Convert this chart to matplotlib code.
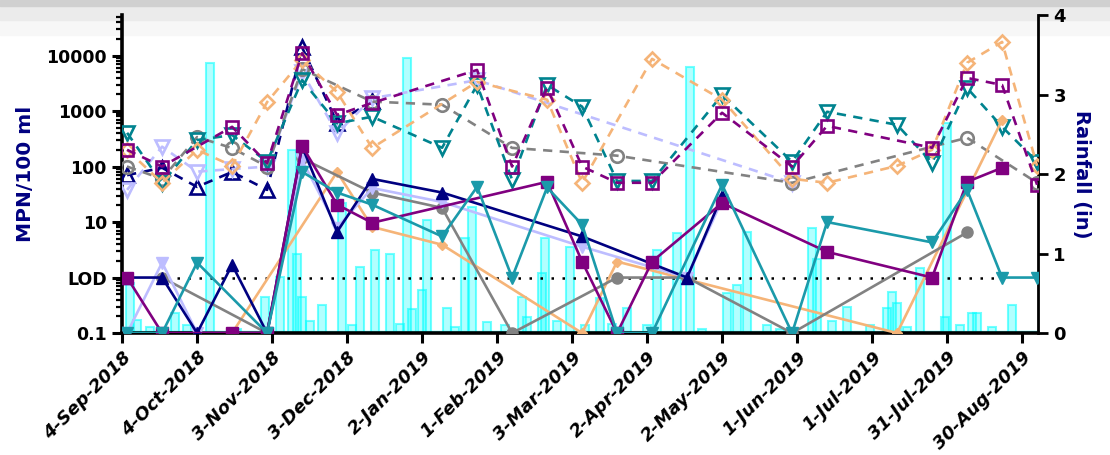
import numpy as np
import matplotlib
matplotlib.use("Agg")
import matplotlib.pyplot as plt
import matplotlib.dates as mdates
from matplotlib.patches import Rectangle
from matplotlib.ticker import FixedLocator, LogLocator, NullFormatter

N = np.nan

# ---------------------------------------------------------------------------
# sampling dates (biweekly)
sample_dates = ['2018-09-06', '2018-09-20', '2018-10-04', '2018-10-18', '2018-11-01',
                '2018-11-15', '2018-11-29', '2018-12-13', '2019-01-10', '2019-01-24',
                '2019-02-07', '2019-02-21', '2019-03-07', '2019-03-21', '2019-04-04',
                '2019-04-18', '2019-05-02', '2019-05-30', '2019-06-13', '2019-07-11',
                '2019-07-25', '2019-08-08', '2019-08-22', '2019-09-05']

# open markers / dashed lines (MPN/100 ml)
purple_dash = [200, 100, N, 520, 115, 11000, 850, 1400, N, 5500, 100, 2600, 100, 51, 51, N,
               930, 100, 540, N, 218, 3950, 2950, 47]
navy_dash = [70, 95, 43, 80, 38, 14000, 620, 1500, N, N, N, N, N, N, N, N,
             N, N, N, N, N, N, N, N]
lavender_dash = [38, 228, 81, 90, 100, 5000, 400, 1700, N, 3600, N, N, N, N, N, N,
                 N, 51, N, N, N, N, N, N]
gray_dash = [100, 60, 340, 215, 100, 5700, N, 1480, 1300, N, 217, N, N, 157, N, N,
             N, 51, N, N, N, 330, N, 51]
teal_dash = [405, 50, 300, 370, 122, 3600, 600, 790, 218, 2950, 58, 2950, 1200, 55, 55, N,
             1950, 122, 970, 565, 117, 2600, 520, 122]
orange_dash = [200, 51, 200, 103, 1450, 8300, 2200, 217, N, 3350, N, 1600, 51, N, 8700, N,
               1600, 60, 51, 103, 200, 7400, 17600, 103]

# filled markers / solid lines (LOD plotted at 1, non-detect at 0.1)
purple_solid = [1, 0.1, N, 0.1, 0.1, 235, 20.6, 9.7, N, N, N, 53, 1.94, 0.1, 1.94, N,
                22, N, 2.9, N, 1, 53, 95, N]
navy_solid = [1, 1, 0.1, 1.7, 0.1, 230, 6.7, 60, 34, N, N, N, 5.5, N, N, 1,
              30, N, N, N, N, N, N, N]
lavender_solid = [0.1, 1.86, 0.1, N, 0.1, 130, 7.9, 41, 23, N, N, N, 3.6, N, N, 1,
                  25, N, N, N, N, N, N, N]
gray_solid = [N, 1, N, N, 0.1, 140, N, 34, 18, N, 0.1, N, N, 1, N, 1,
              N, 0.1, N, N, N, 6.5, N, N]
teal_solid = [0.1, 0.1, 1.86, N, 0.1, 80, 34, 20.6, 5.5, 43, 1, 42, 9, 0.1, 0.1, N,
              47, 0.1, 10, N, 4.3, 38, 1, 1]
orange_solid = [N, N, N, 0.1, N, N, 80, 8.2, 3.9, N, N, N, 0.1, 1.94, N, N,
                N, N, N, 0.1, N, N, 690, N]

# daily rainfall (in)
rain_dates = ['2018-09-07', '2018-09-10', '2018-09-15', '2018-09-25', '2018-09-30',
              '2018-10-09', '2018-10-20', '2018-10-31', '2018-11-06', '2018-11-11',
              '2018-11-13', '2018-11-15', '2018-11-18', '2018-11-23', '2018-12-01',
              '2018-12-05', '2018-12-08', '2018-12-14', '2018-12-20', '2018-12-24',
              '2018-12-27', '2018-12-29', '2019-01-02', '2019-01-04', '2019-01-12',
              '2019-01-15', '2019-01-19', '2019-01-22', '2019-01-28', '2019-02-04',
              '2019-02-11', '2019-02-13', '2019-02-19', '2019-02-20', '2019-02-25',
              '2019-03-02', '2019-03-08', '2019-03-14', '2019-03-19', '2019-03-25',
              '2019-04-02', '2019-04-06', '2019-04-14', '2019-04-19', '2019-04-24',
              '2019-05-04', '2019-05-08', '2019-05-12', '2019-05-20', '2019-05-25',
              '2019-06-07', '2019-06-09', '2019-06-15', '2019-06-21', '2019-06-30',
              '2019-07-07', '2019-07-09', '2019-07-11', '2019-07-15', '2019-07-20',
              '2019-07-30', '2019-07-31', '2019-08-05', '2019-08-10', '2019-08-12',
              '2019-08-18', '2019-08-26']
rain_in = [0.63, 0.16, 0.08, 0.25, 0.10,
           3.40, 0.05, 0.45, 0.70, 2.30,
           1.00, 0.45, 0.15, 0.35, 1.63,
           0.10, 0.83, 1.04, 1.00, 0.12,
           3.46, 0.30, 0.54, 1.42, 0.31,
           0.08, 1.20, 1.58, 0.14, 0.10,
           0.45, 0.20, 0.75, 1.20, 0.15,
           1.08, 0.10, 0.44, 0.12, 0.31,
           0.10, 1.04, 1.26, 3.35, 0.05,
           0.50, 0.60, 1.27, 0.10, 0.05,
           1.32, 0.93, 0.15, 0.33, 0.10,
           0.31, 0.52, 0.38, 0.07, 0.82,
           0.20, 2.64, 0.10, 0.25, 0.25,
           0.08, 0.35]

xtick_dates = ['2018-09-04', '2018-10-04', '2018-11-03', '2018-12-03', '2019-01-02',
               '2019-02-01', '2019-03-03', '2019-04-02', '2019-05-02', '2019-06-01',
               '2019-07-01', '2019-07-31', '2019-08-30']
xtick_labels = ['4-Sep-2018', '4-Oct-2018', '3-Nov-2018', '3-Dec-2018', '2-Jan-2019',
                '1-Feb-2019', '3-Mar-2019', '2-Apr-2019', '2-May-2019', '1-Jun-2019',
                '1-Jul-2019', '31-Jul-2019', '30-Aug-2019']
ytick_vals = [0.1, 1, 10, 100, 1000, 10000]
ytick_labels = ['0.1', 'LOD', '10', '100', '1000', '10000']
lod_start, lod_end = '2018-09-26', '2019-08-19'

# ---------------------------------------------------------------------------
purple = '#800080'
navy = '#000080'
lavender = '#bdbdff'
gray = '#828282'
teal_d = '#00838f'
teal_s = '#1b9aaa'
orange = '#f5b478'

t = mdates.datestr2num(sample_dates)

fig = plt.figure(figsize=(11.10, 4.55), dpi=100)
# screenshot strip at the top
fig.add_artist(Rectangle((0, 1 - 35 / 455), 1, 35 / 455, transform=fig.transFigure,
                         color='#f7f7f7', zorder=-10))
fig.add_artist(Rectangle((0, 1 - 20 / 455), 1, 14 / 455, transform=fig.transFigure,
                         color='#ebebeb', zorder=-9))
fig.add_artist(Rectangle((0, 1 - 6 / 455), 1, 6 / 455, transform=fig.transFigure,
                         color='#d0d0d0', zorder=-8))

ax = fig.add_axes([0.110, 0.268, 0.8252, 0.699])
axr = ax.twinx()
ax.set_zorder(axr.get_zorder() + 1)
ax.patch.set_visible(False)
axr.patch.set_visible(False)

# rainfall bars
axr.bar(mdates.datestr2num(rain_dates), rain_in, width=3.2, color=(0, 1, 1, 0.3),
        edgecolor=(0, 1, 1, 0.55), linewidth=1.5, zorder=1)
axr.axhline(0.01, color=(0, 1, 1, 0.6), lw=2.5, zorder=1)
axr.set_ylim(0, 4)
axr.set_yticks([0, 1, 2, 3, 4])

# dashed (open markers)
dash_style = (0, (3.5, 2.8))
open_series = [
    (navy_dash, navy, '^', 10),
    (lavender_dash, lavender, 'v', 10),
    (gray_dash, gray, 'o', 9),
    (teal_dash, teal_d, 'v', 10),
    (orange_dash, orange, 'D', 7.5),
    (purple_dash, purple, 's', 9),
]
for vals, col, mk, ms in open_series:
    v = np.array(vals, dtype=float)
    ok = ~np.isnan(v)
    ax.plot(t[ok], v[ok], linestyle=dash_style, color=col, lw=1.9, marker=mk, ms=ms,
            mfc='none', mec=col, mew=1.9, zorder=3)

# solid (filled markers)
solid_series = [
    (orange_solid, orange, 'D', 5.5),
    (gray_solid, gray, 'o', 8),
    (lavender_solid, lavender, 'v', 8.5),
    (navy_solid, navy, '^', 8.5),
    (purple_solid, purple, 's', 8),
    (teal_solid, teal_s, 'v', 8.5),
]
for vals, col, mk, ms in solid_series:
    v = np.array(vals, dtype=float)
    ok = ~np.isnan(v)
    ax.plot(t[ok], v[ok], linestyle='-', color=col, lw=1.9, marker=mk, ms=ms,
            mfc=col, mec=col, zorder=4)

# LOD line
ax.plot(mdates.datestr2num([lod_start, lod_end]), [1, 1], color='black', lw=1.8,
        linestyle=(0, (1, 3.4)), zorder=2)

ax.set_yscale('log')
ax.set_ylim(0.1, 10 ** 4.73)
ax.yaxis.set_major_locator(FixedLocator(ytick_vals))
ax.set_yticklabels(ytick_labels)
ax.yaxis.set_minor_locator(LogLocator(base=10, subs=np.arange(2, 10)))
ax.yaxis.set_minor_formatter(NullFormatter())

x0 = mdates.datestr2num('2018-09-04')
ax.set_xlim(x0, x0 + 366.4)
ax.set_xticks(mdates.datestr2num(xtick_dates))
ax.set_xticklabels(xtick_labels, rotation=45, ha='right', rotation_mode='anchor',
                   fontsize=13, fontweight='bold', fontstyle='italic')

for s in ['top']:
    ax.spines[s].set_visible(False)
    axr.spines[s].set_visible(False)
ax.spines['right'].set_visible(False)
axr.spines['left'].set_visible(False)
axr.spines['bottom'].set_visible(False)
ax.spines['left'].set_linewidth(2.6)
ax.spines['bottom'].set_linewidth(2.6)
axr.spines['right'].set_linewidth(2.0)

ax.tick_params(axis='y', which='major', length=7, width=2.2, labelsize=12.5, pad=4)
ax.tick_params(axis='y', which='minor', length=4, width=1.6)
ax.tick_params(axis='x', which='major', length=7, width=2.2, pad=4)
axr.tick_params(axis='y', length=7, width=2.0, labelsize=13, pad=4)
for lab in ax.get_yticklabels() + axr.get_yticklabels():
    lab.set_fontweight('bold')

ax.set_ylabel('MPN/100 ml', fontsize=14.5, fontweight='bold', color=navy, labelpad=8)
axr.set_ylabel('Rainfall (in)', fontsize=14, fontweight='bold', color=navy,
               rotation=270, labelpad=18)

fig.savefig('out.png', dpi=100)
